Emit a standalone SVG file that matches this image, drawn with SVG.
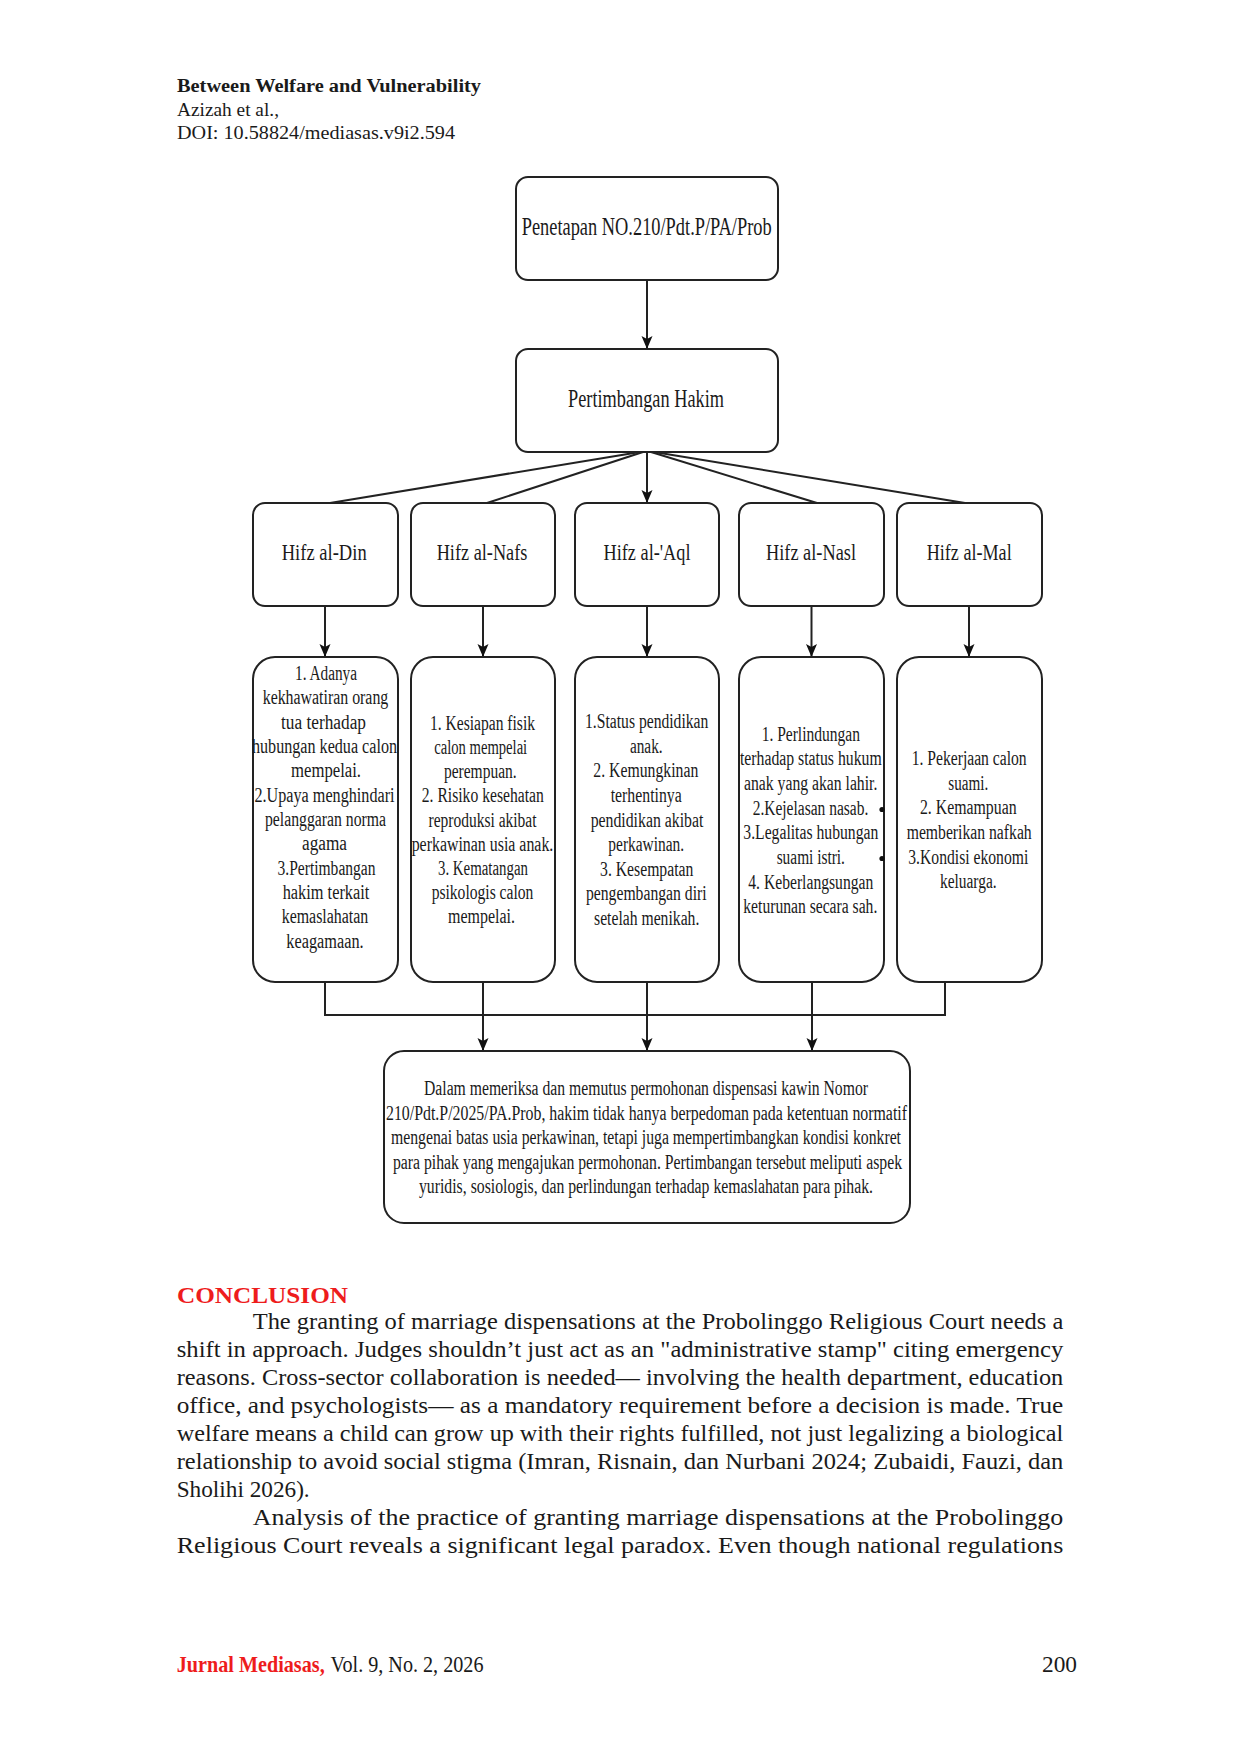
<svg xmlns="http://www.w3.org/2000/svg" width="1240" height="1754" viewBox="0 0 1240 1754">
<style>
.bg{fill:#ffffff}
.box{fill:#ffffff;stroke:#222222;stroke-width:2}
.ln{fill:none;stroke:#222222;stroke-width:2}
.t{font-family:"Liberation Serif",serif;fill:#1a1a1a;text-anchor:middle}
.lbl{font-size:24px}
.sm{font-size:20px}
.body{font-family:"Liberation Serif",serif;font-size:23px;fill:#1a1a1a}
.hdr{font-family:"Liberation Serif",serif;font-size:18.5px;fill:#1a1a1a}
.red{fill:#ee1c1c}
</style>
<defs>
<marker id="arr" markerUnits="userSpaceOnUse" markerWidth="14" markerHeight="12" viewBox="0 0 14 12" refX="13" refY="6" orient="auto">
<path d="M0,0.5 L13,6 L0,11.5 L3,6 Z" fill="#111111"/>
</marker>
</defs>
<rect class="bg" x="0" y="0" width="1240" height="1754"/>

<g id="header">
<text class="hdr" x="177" y="92" font-weight="bold" textLength="304" lengthAdjust="spacingAndGlyphs">Between Welfare and Vulnerability</text>
<text class="hdr" x="177" y="116" textLength="102" lengthAdjust="spacingAndGlyphs">Azizah et al.,</text>
<text class="hdr" x="177" y="139" textLength="278" lengthAdjust="spacingAndGlyphs">DOI: 10.58824/mediasas.v9i2.594</text>
</g>

<g id="connectors">
<line class="ln" x1="647" y1="280" x2="647" y2="349" marker-end="url(#arr)"/>
<line class="ln" x1="640" y1="452" x2="330" y2="503"/>
<line class="ln" x1="643" y1="452" x2="487" y2="503"/>
<line class="ln" x1="647" y1="452" x2="647" y2="503" marker-end="url(#arr)"/>
<line class="ln" x1="651" y1="452" x2="817" y2="503"/>
<line class="ln" x1="654" y1="452" x2="965" y2="503"/>
<line class="ln" x1="325" y1="606" x2="325" y2="657" marker-end="url(#arr)"/>
<line class="ln" x1="483" y1="606" x2="483" y2="657" marker-end="url(#arr)"/>
<line class="ln" x1="647" y1="606" x2="647" y2="657" marker-end="url(#arr)"/>
<line class="ln" x1="811.5" y1="606" x2="811.5" y2="657" marker-end="url(#arr)"/>
<line class="ln" x1="969" y1="606" x2="969" y2="657" marker-end="url(#arr)"/>
<polyline class="ln" points="325,982 325,1015 945,1015 945,982"/>
<line class="ln" x1="483" y1="982" x2="483" y2="1051" marker-end="url(#arr)"/>
<line class="ln" x1="647" y1="982" x2="647" y2="1051" marker-end="url(#arr)"/>
<line class="ln" x1="812" y1="982" x2="812" y2="1051" marker-end="url(#arr)"/>
</g>

<g id="penetapan">
<rect class="box" x="516" y="177" width="262" height="103" rx="12"/>
<text class="t" x="646.7" y="235" font-size="25" textLength="250" lengthAdjust="spacingAndGlyphs">Penetapan NO.210/Pdt.P/PA/Prob</text>
</g>
<g id="pertimbangan">
<rect class="box" x="516" y="349" width="262" height="103" rx="12"/>
<text class="t" x="646" y="407" font-size="25" textLength="156" lengthAdjust="spacingAndGlyphs">Pertimbangan Hakim</text>
</g>

<g id="hifz-din">
<rect class="box" x="253" y="503" width="145" height="103" rx="12"/>
<text class="t lbl" x="324.2" y="560" textLength="85" lengthAdjust="spacingAndGlyphs">Hifz al-Din</text>
</g>
<g id="hifz-nafs">
<rect class="box" x="411" y="503" width="144" height="103" rx="12"/>
<text class="t lbl" x="482" y="560" textLength="90.7" lengthAdjust="spacingAndGlyphs">Hifz al-Nafs</text>
</g>
<g id="hifz-aql">
<rect class="box" x="575" y="503" width="144" height="103" rx="12"/>
<text class="t lbl" x="647" y="560" textLength="87" lengthAdjust="spacingAndGlyphs">Hifz al-'Aql</text>
</g>
<g id="hifz-nasl">
<rect class="box" x="739" y="503" width="145" height="103" rx="12"/>
<text class="t lbl" x="811" y="560" textLength="90" lengthAdjust="spacingAndGlyphs">Hifz al-Nasl</text>
</g>
<g id="hifz-mal">
<rect class="box" x="897" y="503" width="145" height="103" rx="12"/>
<text class="t lbl" x="969.2" y="560" textLength="85" lengthAdjust="spacingAndGlyphs">Hifz al-Mal</text>
</g>

<g id="detail-din">
<rect class="box" x="253" y="657" width="145" height="325" rx="22"/>
<text class="t sm" x="326" y="679.8" textLength="62" lengthAdjust="spacingAndGlyphs">1. Adanya</text>
<text class="t sm" x="325.5" y="704.2" textLength="125.6" lengthAdjust="spacingAndGlyphs">kekhawatiran orang</text>
<text class="t sm" x="323.5" y="728.5" textLength="85" lengthAdjust="spacingAndGlyphs">tua terhadap</text>
<text class="t sm" x="324.5" y="752.9" textLength="145" lengthAdjust="spacingAndGlyphs">hubungan kedua calon</text>
<text class="t sm" x="326" y="777.2" textLength="70" lengthAdjust="spacingAndGlyphs">mempelai.</text>
<text class="t sm" x="324.5" y="801.6" textLength="140" lengthAdjust="spacingAndGlyphs">2.Upaya menghindari</text>
<text class="t sm" x="325.5" y="825.9" textLength="121" lengthAdjust="spacingAndGlyphs">pelanggaran norma</text>
<text class="t sm" x="324.5" y="850.3" textLength="45" lengthAdjust="spacingAndGlyphs">agama</text>
<text class="t sm" x="326.5" y="874.6" textLength="98" lengthAdjust="spacingAndGlyphs">3.Pertimbangan</text>
<text class="t sm" x="326" y="899" textLength="86.7" lengthAdjust="spacingAndGlyphs">hakim terkait</text>
<text class="t sm" x="325" y="923.3" textLength="86.6" lengthAdjust="spacingAndGlyphs">kemaslahatan</text>
<text class="t sm" x="325" y="947.7" textLength="77.3" lengthAdjust="spacingAndGlyphs">keagamaan.</text>
</g>

<g id="detail-nafs">
<rect class="box" x="411" y="657" width="144" height="325" rx="22"/>
<text class="t sm" x="482.5" y="729.8" textLength="105" lengthAdjust="spacingAndGlyphs">1. Kesiapan fisik</text>
<text class="t sm" x="480.7" y="754" textLength="93" lengthAdjust="spacingAndGlyphs">calon mempelai</text>
<text class="t sm" x="480.3" y="778.2" textLength="72.7" lengthAdjust="spacingAndGlyphs">perempuan.</text>
<text class="t sm" x="482.8" y="802.4" textLength="122" lengthAdjust="spacingAndGlyphs">2. Risiko kesehatan</text>
<text class="t sm" x="482.5" y="826.6" textLength="108" lengthAdjust="spacingAndGlyphs">reproduksi akibat</text>
<text class="t sm" x="482.5" y="850.8" textLength="141.7" lengthAdjust="spacingAndGlyphs">perkawinan usia anak.</text>
<text class="t sm" x="483" y="875" textLength="90" lengthAdjust="spacingAndGlyphs">3. Kematangan</text>
<text class="t sm" x="482.5" y="899.2" textLength="101.7" lengthAdjust="spacingAndGlyphs">psikologis calon</text>
<text class="t sm" x="481.5" y="923.4" textLength="67" lengthAdjust="spacingAndGlyphs">mempelai.</text>
</g>

<g id="detail-aql">
<rect class="box" x="575" y="657" width="144" height="325" rx="22"/>
<text class="t sm" x="646.7" y="728.2" textLength="123.3" lengthAdjust="spacingAndGlyphs">1.Status pendidikan</text>
<text class="t sm" x="646.3" y="752.8" textLength="32.7" lengthAdjust="spacingAndGlyphs">anak.</text>
<text class="t sm" x="645.8" y="777.4" textLength="105" lengthAdjust="spacingAndGlyphs">2. Kemungkinan</text>
<text class="t sm" x="646.2" y="802" textLength="71" lengthAdjust="spacingAndGlyphs">terhentinya</text>
<text class="t sm" x="647" y="826.6" textLength="112.7" lengthAdjust="spacingAndGlyphs">pendidikan akibat</text>
<text class="t sm" x="646.2" y="851.2" textLength="75.7" lengthAdjust="spacingAndGlyphs">perkawinan.</text>
<text class="t sm" x="646.7" y="875.8" textLength="93.3" lengthAdjust="spacingAndGlyphs">3. Kesempatan</text>
<text class="t sm" x="646.3" y="900.4" textLength="120.7" lengthAdjust="spacingAndGlyphs">pengembangan diri</text>
<text class="t sm" x="646.7" y="925" textLength="105.3" lengthAdjust="spacingAndGlyphs">setelah menikah.</text>
</g>

<g id="detail-nasl">
<rect class="box" x="739" y="657" width="145" height="325" rx="22"/>
<text class="t sm" x="810.8" y="740.8" textLength="98.3" lengthAdjust="spacingAndGlyphs">1. Perlindungan</text>
<text class="t sm" x="810.8" y="765.4" textLength="141.7" lengthAdjust="spacingAndGlyphs">terhadap status hukum</text>
<text class="t sm" x="810.7" y="790.1" textLength="133.3" lengthAdjust="spacingAndGlyphs">anak yang akan lahir.</text>
<text class="t sm" x="810.5" y="814.7" textLength="115.7" lengthAdjust="spacingAndGlyphs">2.Kejelasan nasab.</text>
<text class="t sm" x="810.8" y="839.3" textLength="135" lengthAdjust="spacingAndGlyphs">3.Legalitas hubungan</text>
<text class="t sm" x="810.8" y="864" textLength="68.3" lengthAdjust="spacingAndGlyphs">suami istri.</text>
<text class="t sm" x="810.8" y="888.6" textLength="125" lengthAdjust="spacingAndGlyphs">4. Keberlangsungan</text>
<text class="t sm" x="810.3" y="913.2" textLength="134" lengthAdjust="spacingAndGlyphs">keturunan secara sah.</text>
<circle cx="882" cy="809.5" r="2.6" fill="#111111"/>
<circle cx="882" cy="858.5" r="2.6" fill="#111111"/>
</g>

<g id="detail-mal">
<rect class="box" x="897" y="657" width="145" height="325" rx="22"/>
<text class="t sm" x="969.2" y="764.8" textLength="115" lengthAdjust="spacingAndGlyphs">1. Pekerjaan calon</text>
<text class="t sm" x="968.3" y="789.5" textLength="40" lengthAdjust="spacingAndGlyphs">suami.</text>
<text class="t sm" x="968.3" y="814.2" textLength="96.7" lengthAdjust="spacingAndGlyphs">2. Kemampuan</text>
<text class="t sm" x="969.2" y="838.8" textLength="125" lengthAdjust="spacingAndGlyphs">memberikan nafkah</text>
<text class="t sm" x="968.3" y="863.5" textLength="120" lengthAdjust="spacingAndGlyphs">3.Kondisi ekonomi</text>
<text class="t sm" x="968.3" y="888.2" textLength="56.7" lengthAdjust="spacingAndGlyphs">keluarga.</text>
</g>

<g id="kesimpulan">
<rect class="box" x="384" y="1051" width="526" height="172" rx="20"/>
<text class="t sm" x="646" y="1095" textLength="444" lengthAdjust="spacingAndGlyphs">Dalam memeriksa dan memutus permohonan dispensasi kawin Nomor</text>
<text class="t sm" x="646.5" y="1119.5" textLength="521" lengthAdjust="spacingAndGlyphs">210/Pdt.P/2025/PA.Prob, hakim tidak hanya berpedoman pada ketentuan normatif</text>
<text class="t sm" x="646" y="1144" textLength="510" lengthAdjust="spacingAndGlyphs">mengenai batas usia perkawinan, tetapi juga mempertimbangkan kondisi konkret</text>
<text class="t sm" x="647.5" y="1168.5" textLength="509" lengthAdjust="spacingAndGlyphs">para pihak yang mengajukan permohonan. Pertimbangan tersebut meliputi aspek</text>
<text class="t sm" x="646" y="1193" textLength="454" lengthAdjust="spacingAndGlyphs">yuridis, sosiologis, dan perlindungan terhadap kemaslahatan para pihak.</text>
</g>

<g id="body">
<text class="body red" x="177" y="1303" font-size="25" font-weight="bold" textLength="171" lengthAdjust="spacingAndGlyphs">CONCLUSION</text>
<text class="body" x="252.7" y="1329" textLength="810.6" lengthAdjust="spacingAndGlyphs">The granting of marriage dispensations at the Probolinggo Religious Court needs a</text>
<text class="body" x="176.7" y="1357" textLength="886.6" lengthAdjust="spacingAndGlyphs">shift in approach. Judges shouldn’t just act as an "administrative stamp" citing emergency</text>
<text class="body" x="176.7" y="1385" textLength="886.6" lengthAdjust="spacingAndGlyphs">reasons. Cross-sector collaboration is needed— involving the health department, education</text>
<text class="body" x="176.7" y="1413" textLength="886.6" lengthAdjust="spacingAndGlyphs">office, and psychologists— as a mandatory requirement before a decision is made. True</text>
<text class="body" x="176.7" y="1441" textLength="886.6" lengthAdjust="spacingAndGlyphs">welfare means a child can grow up with their rights fulfilled, not just legalizing a biological</text>
<text class="body" x="176.7" y="1469" textLength="886.6" lengthAdjust="spacingAndGlyphs">relationship to avoid social stigma (Imran, Risnain, dan Nurbani 2024; Zubaidi, Fauzi, dan</text>
<text class="body" x="176.7" y="1497" textLength="133" lengthAdjust="spacingAndGlyphs">Sholihi 2026).</text>
<text class="body" x="252.7" y="1525" textLength="810.6" lengthAdjust="spacingAndGlyphs">Analysis of the practice of granting marriage dispensations at the Probolinggo</text>
<text class="body" x="176.7" y="1553" textLength="886.6" lengthAdjust="spacingAndGlyphs">Religious Court reveals a significant legal paradox. Even though national regulations</text>
</g>

<g id="footer">
<text class="body red" x="176.7" y="1672" font-size="19.5" font-weight="bold" textLength="148" lengthAdjust="spacingAndGlyphs">Jurnal Mediasas,</text>
<text class="body" x="330.5" y="1672" font-size="19.5" textLength="153" lengthAdjust="spacingAndGlyphs">Vol. 9, No. 2, 2026</text>
<text class="body" x="1042" y="1672" font-size="21" textLength="35" lengthAdjust="spacingAndGlyphs">200</text>
</g>
</svg>
